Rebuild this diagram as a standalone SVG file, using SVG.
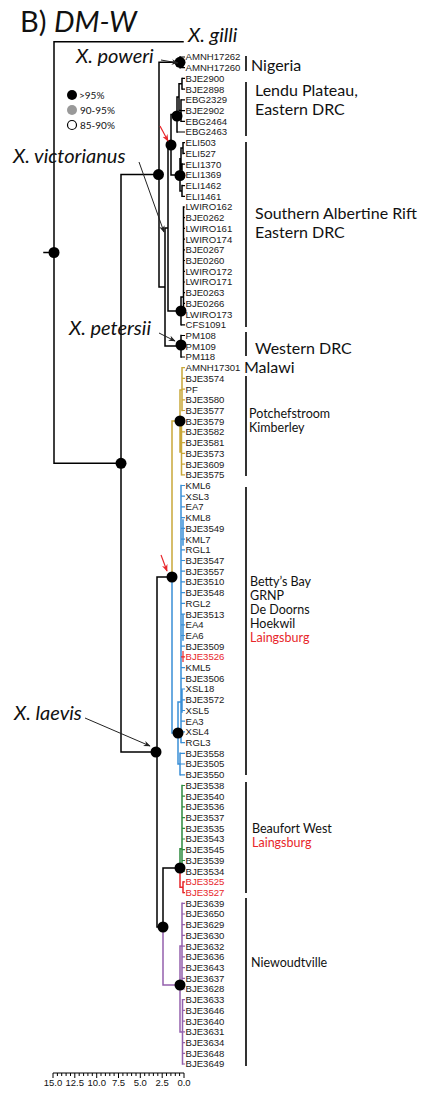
<svg xmlns="http://www.w3.org/2000/svg" width="428" height="1093" viewBox="0 0 428 1093">
<style>
.br{fill:none;stroke:#000;stroke-width:1.5;stroke-linecap:square}
.y{stroke:#c9a83a}.b{stroke:#3a8fd6}.g{stroke:#2e8a3e}.r{stroke:#e8262b}.p{stroke:#9460ad}
.tk{fill:none;stroke-width:1.2}
.lf{font-family:"Liberation Sans",Arial,sans-serif;font-size:9.6px;fill:#1a1a1a}
.sp{font-family:Lato,"Liberation Sans",sans-serif;font-style:italic;font-size:20px;fill:#111}
.rg{font-family:Lato,"Liberation Sans",sans-serif;font-size:16px;fill:#111}
.rs{font-family:Lato,"Liberation Sans",sans-serif;font-size:12.5px;fill:#111}
.bar{stroke:#000;stroke-width:1.6}
.nd{fill:#000}
.ar{fill:none;stroke:#222;stroke-width:1}
.arr{fill:none;stroke:#e8262b;stroke-width:1.2}
.sc{font-family:"Liberation Sans",Arial,sans-serif;font-size:9.5px;fill:#111;text-anchor:middle}
text.red{fill:#e8262b}
</style>
<defs>
<marker id="ah" viewBox="0 0 10 10" refX="9" refY="5" markerWidth="7" markerHeight="7" orient="auto"><path d="M0,1 L10,5 L0,9 L3,5 z" fill="#222"/></marker>
<marker id="ahr" viewBox="0 0 10 10" refX="9" refY="5" markerWidth="6" markerHeight="6" orient="auto"><path d="M0,1 L10,5 L0,9 L3,5 z" fill="#e8262b"/></marker>
</defs>
<rect width="428" height="1093" fill="#fff"/>

<g id="title"><text x="20" y="32" font-family="Lato,'Liberation Sans',sans-serif" font-size="29" fill="#111">B) <tspan font-style="italic">DM-W</tspan></text></g>

<g id="legend">
<circle cx="72" cy="95" r="5" fill="#000"/>
<circle cx="72" cy="110" r="5" fill="#999"/>
<circle cx="72" cy="125" r="4.5" fill="#fff" stroke="#000" stroke-width="1.2"/>
<text x="79" y="98.5" font-family="Lato,'Liberation Sans',sans-serif" font-size="10" fill="#111">&gt;95%</text>
<text x="80" y="113.5" font-family="Lato,'Liberation Sans',sans-serif" font-size="10" fill="#111">90-95%</text>
<text x="80" y="128.5" font-family="Lato,'Liberation Sans',sans-serif" font-size="10" fill="#111">85-90%</text>
</g>

<g id="connectors">
<path class="br" d="M44,252.5H54M54,41.7V463.3M54,41.7H183M54,463.3H121M121,174.6V752M121,174.6H159M159,62.3V287M159,62.3H180M159,287H165M180,57V67.7M165,228V346M165,228H168M165,346H181M168,145V311M168,145H171M168,311H181M171,114.5V175M171,114.5H177M171,175H180M177,97V132M177,97H179M179,83.8V110.6M179,83.8H182M179,110.6H181M182,78.4V89.1M181,99.9V121.3M180,158.8V191M180,158.8H181M180,191H182M181,148V169.5M181,148H183M181,169.5H182M183,142.7V153.4M182,164.1V174.8M182,185.6V196.3M181,297V324.8M181,297H183.5M183.5,207V314.1M181,335.5V357M121,752H157M157,577V927M157,577H172M157,927H163M163,868V927M163,868H180"/>
<path class="tk" stroke="#000" d="M180,57H185M180,67.7H185M182,78.4H185M182,89.1H185M181,99.9H185M181,110.6H185M181,121.3H185M177,132H185M183,142.7H185M183,153.4H185M182,164.1H185M182,174.8H185M182,185.6H185M182,196.3H185M183.5,207H185M183.5,217.7H185M183.5,228.4H185M183.5,239.1H185M183.5,249.8H185M183.5,260.5H185M183.5,271.3H185M183.5,282H185M183.5,292.7H185M183.5,303.4H185M183.5,314.1H185M181,324.8H185M181,335.5H185M181,346.2H185M181,357H185"/>
<path class="br y" d="M172,421V577M172,421H180M180,390V452M180,390H182M180,452H181.5M182,367.7V410.5M181.5,421.2V474.8"/>
<path class="tk y" d="M182,367.7H185M182,378.4H185M182,389.1H185M182,399.8H185M182,410.5H185M181.5,421.2H185M181.5,431.9H185M181.5,442.7H185M181.5,453.4H185M181.5,464.1H185M181.5,474.8H185"/>
<path class="br b" d="M172,577V733M172,733H178M178,702V764M178,702H181M178,764H180M181,485.5V742.6M180,753.3V774.8M183,520V545M183,615V640M182,690V712"/>
<path class="tk b" d="M181,485.5H185M181,496.2H185M181,506.9H185M181,517.6H185M181,528.4H185M181,539.1H185M181,549.8H185M181,560.5H185M181,571.2H185M181,581.9H185M181,592.6H185M181,603.3H185M181,614.1H185M181,624.8H185M181,635.5H185M181,646.2H185M181,667.6H185M181,678.3H185M181,689H185M181,699.8H185M181,710.5H185M181,721.2H185M181,731.9H185M181,742.6H185M180,753.3H185M180,764H185M180,774.8H185"/>
<path class="tk r" d="M181,656.9H185M183,651V662"/>
<path class="br g" d="M180,848.8V868M180,848.8H182M182,785.5V871.2"/>
<path class="tk g" d="M182,785.5H185M182,796.2H185M182,806.9H185M182,817.6H185M182,828.3H185M182,839H185M182,849.7H185M182,860.5H185M182,871.2H185"/>
<path class="br r" d="M180,868V887.2M180,887.2H183M183,881.9V892.6"/>
<path class="tk r" d="M183,881.9H185M183,892.6H185"/>
<path class="br p" d="M163,927V985M163,985H180M180,946V1032M180,946H182M180,1032H182.5M182,903.3V989M182.5,999.7V1064"/>
<path class="tk p" d="M182,903.3H185M182,914H185M182,924.7H185M182,935.4H185M182,946.2H185M182,956.9H185M182,967.6H185M182,978.3H185M182,989H185M182.5,999.7H185M182.5,1010.4H185M182.5,1021.1H185M182.5,1031.9H185M182.5,1042.6H185M182.5,1053.3H185M182.5,1064H185"/>
</g>

<g id="support-nodes">
<circle class="nd" cx="54" cy="252.5" r="5.5"/>
<circle class="nd" cx="121" cy="463.3" r="5.5"/>
<circle class="nd" cx="158.5" cy="174.6" r="5.5"/>
<circle class="nd" cx="180" cy="62.3" r="5.5"/>
<circle class="nd" cx="177" cy="116" r="5.5"/>
<circle class="nd" cx="171" cy="145" r="5.5"/>
<circle class="nd" cx="180" cy="175.5" r="5.5"/>
<circle class="nd" cx="181" cy="311" r="5.5"/>
<circle class="nd" cx="181" cy="345" r="5.5"/>
<circle class="nd" cx="180" cy="421" r="5.5"/>
<circle class="nd" cx="172" cy="577" r="5.5"/>
<circle class="nd" cx="178" cy="733" r="5.5"/>
<circle class="nd" cx="156" cy="752" r="5.5"/>
<circle class="nd" cx="163" cy="927" r="5.5"/>
<circle class="nd" cx="180" cy="868" r="5.5"/>
<circle class="nd" cx="180" cy="985" r="5.5"/>
</g>

<g id="species-labels">
<text class="sp" x="188" y="42">X. gilli</text>
<text class="sp" x="76" y="63">X. poweri</text>
<path class="ar" d="M161,60L178,63" marker-end="url(#ah)"/>
<text class="sp" x="13" y="163">X. victorianus</text>
<path class="ar" d="M139,162L164,232" marker-end="url(#ah)"/>
<text class="sp" x="69" y="335">X. petersii</text>
<path class="ar" d="M159,333L175,341" marker-end="url(#ah)"/>
<text class="sp" x="14" y="720">X. laevis</text>
<path class="ar" d="M85,718L150,746" marker-end="url(#ah)"/>
<path class="arr" d="M160,126L168,141" marker-end="url(#ahr)"/>
<path class="arr" d="M161,555L167,571" marker-end="url(#ahr)"/>
</g>

<g id="tips-nigeria">
<text class="lf" x="185.5" y="60.4">AMNH17262</text>
<text class="lf" x="185.5" y="71.1">AMNH17260</text>
</g>
<g id="tips-lendu">
<text class="lf" x="185.5" y="81.8">BJE2900</text>
<text class="lf" x="185.5" y="92.5">BJE2898</text>
<text class="lf" x="185.5" y="103.3">EBG2329</text>
<text class="lf" x="185.5" y="114">BJE2902</text>
<text class="lf" x="185.5" y="124.7">EBG2464</text>
<text class="lf" x="185.5" y="135.4">EBG2463</text>
</g>
<g id="tips-albertine">
<text class="lf" x="185.5" y="146.1">ELI503</text>
<text class="lf" x="185.5" y="156.8">ELI527</text>
<text class="lf" x="185.5" y="167.5">ELI1370</text>
<text class="lf" x="185.5" y="178.2">ELI1369</text>
<text class="lf" x="185.5" y="189">ELI1462</text>
<text class="lf" x="185.5" y="199.7">ELI1461</text>
<text class="lf" x="185.5" y="210.4">LWIRO162</text>
<text class="lf" x="185.5" y="221.1">BJE0262</text>
<text class="lf" x="185.5" y="231.8">LWIRO161</text>
<text class="lf" x="185.5" y="242.5">LWIRO174</text>
<text class="lf" x="185.5" y="253.2">BJE0267</text>
<text class="lf" x="185.5" y="263.9">BJE0260</text>
<text class="lf" x="185.5" y="274.7">LWIRO172</text>
<text class="lf" x="185.5" y="285.4">LWIRO171</text>
<text class="lf" x="185.5" y="296.1">BJE0263</text>
<text class="lf" x="185.5" y="306.8">BJE0266</text>
<text class="lf" x="185.5" y="317.5">LWIRO173</text>
<text class="lf" x="185.5" y="328.2">CFS1091</text>
</g>
<g id="tips-western">
<text class="lf" x="185.5" y="338.9">PM108</text>
<text class="lf" x="185.5" y="349.6">PM109</text>
<text class="lf" x="185.5" y="360.4">PM118</text>
</g>
<g id="tips-potchefstroom">
<text class="lf" x="185.5" y="371.1">AMNH17301</text>
<text class="lf" x="185.5" y="381.8">BJE3574</text>
<text class="lf" x="185.5" y="392.5">PF</text>
<text class="lf" x="185.5" y="403.2">BJE3580</text>
<text class="lf" x="185.5" y="413.9">BJE3577</text>
<text class="lf" x="185.5" y="424.6">BJE3579</text>
<text class="lf" x="185.5" y="435.3">BJE3582</text>
<text class="lf" x="185.5" y="446.1">BJE3581</text>
<text class="lf" x="185.5" y="456.8">BJE3573</text>
<text class="lf" x="185.5" y="467.5">BJE3609</text>
<text class="lf" x="185.5" y="478.2">BJE3575</text>
</g>
<g id="tips-bettys">
<text class="lf" x="185.5" y="488.9">KML6</text>
<text class="lf" x="185.5" y="499.6">XSL3</text>
<text class="lf" x="185.5" y="510.3">EA7</text>
<text class="lf" x="185.5" y="521">KML8</text>
<text class="lf" x="185.5" y="531.8">BJE3549</text>
<text class="lf" x="185.5" y="542.5">KML7</text>
<text class="lf" x="185.5" y="553.2">RGL1</text>
<text class="lf" x="185.5" y="563.9">BJE3547</text>
<text class="lf" x="185.5" y="574.6">BJE3557</text>
<text class="lf" x="185.5" y="585.3">BJE3510</text>
<text class="lf" x="185.5" y="596">BJE3548</text>
<text class="lf" x="185.5" y="606.7">RGL2</text>
<text class="lf" x="185.5" y="617.5">BJE3513</text>
<text class="lf" x="185.5" y="628.2">EA4</text>
<text class="lf" x="185.5" y="638.9">EA6</text>
<text class="lf" x="185.5" y="649.6">BJE3509</text>
<text class="lf red" x="185.5" y="660.3">BJE3526</text>
<text class="lf" x="185.5" y="671">KML5</text>
<text class="lf" x="185.5" y="681.7">BJE3506</text>
<text class="lf" x="185.5" y="692.4">XSL18</text>
<text class="lf" x="185.5" y="703.2">BJE3572</text>
<text class="lf" x="185.5" y="713.9">XSL5</text>
<text class="lf" x="185.5" y="724.6">EA3</text>
<text class="lf" x="185.5" y="735.3">XSL4</text>
<text class="lf" x="185.5" y="746">RGL3</text>
<text class="lf" x="185.5" y="756.7">BJE3558</text>
<text class="lf" x="185.5" y="767.4">BJE3505</text>
<text class="lf" x="185.5" y="778.2">BJE3550</text>
</g>
<g id="tips-beaufort">
<text class="lf" x="185.5" y="788.9">BJE3538</text>
<text class="lf" x="185.5" y="799.6">BJE3540</text>
<text class="lf" x="185.5" y="810.3">BJE3536</text>
<text class="lf" x="185.5" y="821">BJE3537</text>
<text class="lf" x="185.5" y="831.7">BJE3535</text>
<text class="lf" x="185.5" y="842.4">BJE3543</text>
<text class="lf" x="185.5" y="853.1">BJE3545</text>
<text class="lf" x="185.5" y="863.9">BJE3539</text>
<text class="lf" x="185.5" y="874.6">BJE3534</text>
<text class="lf red" x="185.5" y="885.3">BJE3525</text>
<text class="lf red" x="185.5" y="896">BJE3527</text>
</g>
<g id="tips-niewoudtville">
<text class="lf" x="185.5" y="906.7">BJE3639</text>
<text class="lf" x="185.5" y="917.4">BJE3650</text>
<text class="lf" x="185.5" y="928.1">BJE3629</text>
<text class="lf" x="185.5" y="938.8">BJE3630</text>
<text class="lf" x="185.5" y="949.6">BJE3632</text>
<text class="lf" x="185.5" y="960.3">BJE3636</text>
<text class="lf" x="185.5" y="971">BJE3643</text>
<text class="lf" x="185.5" y="981.7">BJE3637</text>
<text class="lf" x="185.5" y="992.4">BJE3628</text>
<text class="lf" x="185.5" y="1003.1">BJE3633</text>
<text class="lf" x="185.5" y="1013.8">BJE3646</text>
<text class="lf" x="185.5" y="1024.5">BJE3640</text>
<text class="lf" x="185.5" y="1035.3">BJE3631</text>
<text class="lf" x="185.5" y="1046">BJE3634</text>
<text class="lf" x="185.5" y="1056.7">BJE3648</text>
<text class="lf" x="185.5" y="1067.4">BJE3649</text>
</g>

<g id="region-labels">
<path class="bar" d="M246,56V71M246,82V136M246,142V327M246,332V356M246,376V476M246,487V775M246,782V893M246,898V1066"/>
<text class="rg" x="251" y="71">Nigeria</text>
<text class="rg" x="255" y="96">Lendu Plateau,</text>
<text class="rg" x="255" y="115">Eastern DRC</text>
<text class="rg" x="255" y="219">Southern Albertine Rift</text>
<text class="rg" x="255" y="238">Eastern DRC</text>
<text class="rg" x="255" y="354">Western DRC</text>
<text class="rg" x="244" y="373">Malawi</text>
<text class="rs" x="249" y="418">Potchefstroom</text>
<text class="rs" x="249" y="432">Kimberley</text>
<text class="rs" x="250" y="586">Betty’s Bay</text>
<text class="rs" x="250" y="600">GRNP</text>
<text class="rs" x="250" y="614">De Doorns</text>
<text class="rs" x="250" y="628">Hoekwil</text>
<text class="rs red" x="250" y="642">Laingsburg</text>
<text class="rs" x="252" y="833">Beaufort West</text>
<text class="rs red" x="252" y="847">Laingsburg</text>
<text class="rs" x="251" y="967">Niewoudtville</text>
</g>

<g id="scale-bar">
<path stroke="#000" stroke-width="1" fill="none" d="M53,1073H184M53,1073v5M57.4,1073v3M61.7,1073v3M66.1,1073v3M70.5,1073v3M74.8,1073v5M79.2,1073v3M83.6,1073v3M87.9,1073v3M92.3,1073v3M96.7,1073v5M101,1073v3M105.4,1073v3M109.8,1073v3M114.1,1073v3M118.5,1073v5M122.9,1073v3M127.2,1073v3M131.6,1073v3M136,1073v3M140.3,1073v5M144.7,1073v3M149.1,1073v3M153.4,1073v3M157.8,1073v3M162.2,1073v5M166.5,1073v3M170.9,1073v3M175.3,1073v3M179.6,1073v3M184,1073v5"/>
<text class="sc" x="53" y="1086">15.0</text>
<text class="sc" x="74.8" y="1086">12.5</text>
<text class="sc" x="96.7" y="1086">10.0</text>
<text class="sc" x="118.5" y="1086">7.5</text>
<text class="sc" x="140.3" y="1086">5.0</text>
<text class="sc" x="162.2" y="1086">2.5</text>
<text class="sc" x="184" y="1086">0.0</text>
</g>
</svg>
